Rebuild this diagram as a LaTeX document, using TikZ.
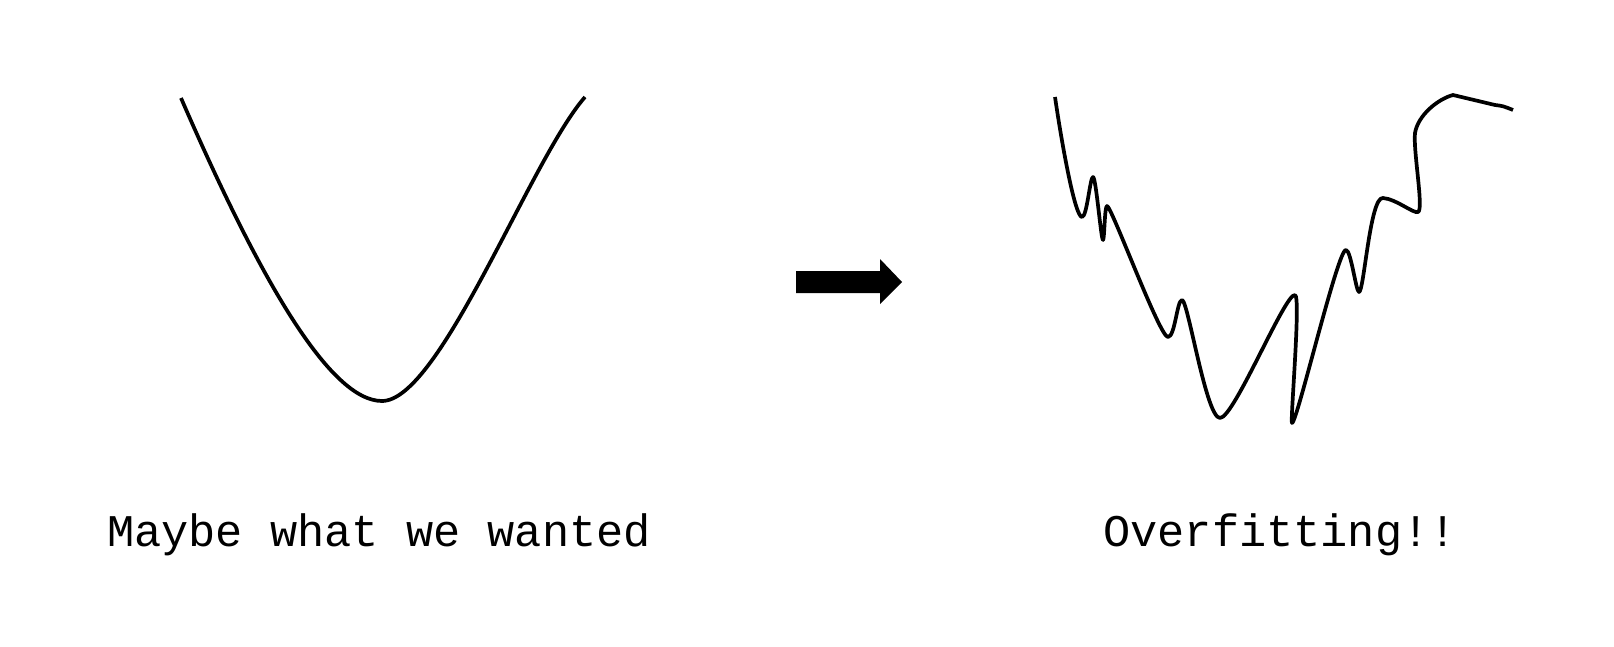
\documentclass[tikz,border=0pt]{standalone}
\usepackage{fontspec}
\setmonofont{Liberation Mono}
\begin{document}
\begin{tikzpicture}[x=1pt,y=-1pt,
  curve/.style={line width=3.7pt, line join=round, line cap=butt},
  caption/.style={font=\ttfamily\fontsize{45.3}{48}\selectfont, anchor=base, inner sep=0pt}]
\useasboundingbox (0,0) rectangle (1614,646);
% left curve
\draw[curve] (181,98) .. controls (260,280) and (330,401) .. (382,401)
  .. controls (440,401) and (530,160) .. (585,97);
% arrow
\fill (796,271) -- (880,271) -- (880,259) -- (902,282) -- (880,304) -- (880,293) -- (796,293) -- cycle;
% right curve
\draw[curve] (1055,97)
  .. controls (1062,145) and (1075,217) .. (1082,217)
  .. controls (1087,217) and (1090,177) .. (1093,177)
  .. controls (1096,177) and (1101,240) .. (1103,240)
  .. controls (1104.5,240) and (1104.5,206) .. (1107,206)
  .. controls (1111,205) and (1160,338) .. (1168,337)
  .. controls (1175,337) and (1177,300) .. (1182,300)
  .. controls (1188,300) and (1206,418) .. (1220,418)
  .. controls (1234,418) and (1285,293) .. (1295,295)
  .. controls (1301,296) and (1290,423) .. (1292,423)
  .. controls (1297,423) and (1338,248) .. (1346,250)
  .. controls (1351,250) and (1356,292) .. (1359,292)
  .. controls (1364,292) and (1370,196) .. (1383,198)
  .. controls (1396,199) and (1414,214) .. (1418,212)
  .. controls (1424,210) and (1413,150) .. (1415,133)
  .. controls (1418,115) and (1438,99) .. (1453,95)
  -- (1495,105) .. controls (1503,106) .. (1513,110);
\node[caption] (left) at (379,546) {Maybe what we wanted};
\node[caption] (right) at (1280,546) {Overfitting!!};
\end{tikzpicture}
\end{document}
